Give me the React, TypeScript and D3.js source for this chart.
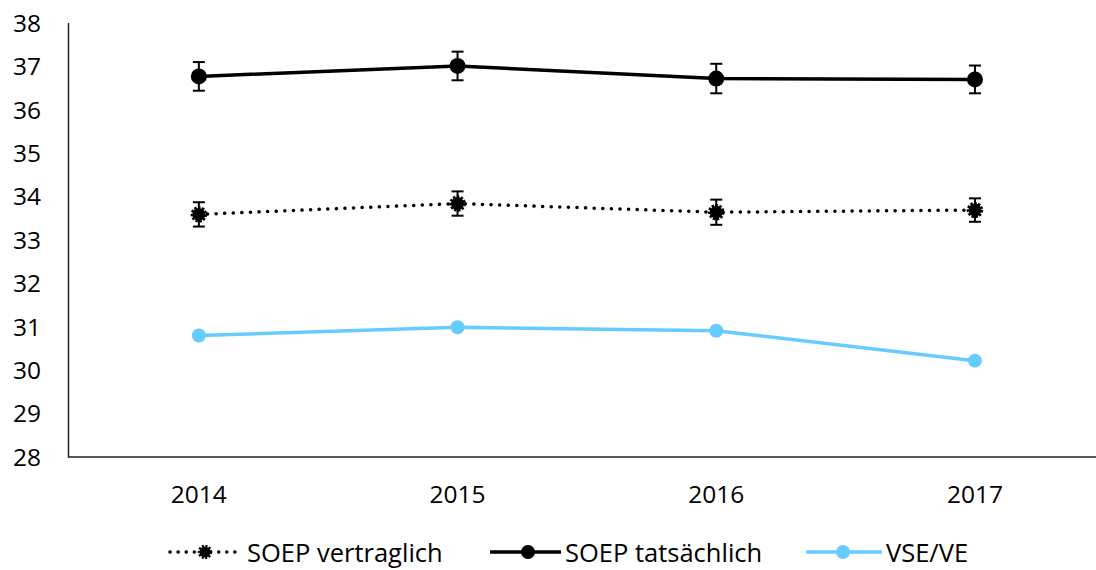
import React from "react";
import * as d3 from "d3";

const years = ["2014", "2015", "2016", "2017"];
const yTicks = [28, 29, 30, 31, 32, 33, 34, 35, 36, 37, 38];
const soepVertraglich = [33.59, 33.84, 33.64, 33.69];
const soepVertraglichErr = [0.28, 0.28, 0.29, 0.27];
const soepTatsaechlich = [36.77, 37.01, 36.72, 36.7];
const soepTatsaechlichErr = [0.33, 0.33, 0.34, 0.32];
const vseVe = [30.8, 30.99, 30.91, 30.22];
const legendLabels = ["SOEP vertraglich", "SOEP tatsächlich", "VSE/VE"];

const W = 1096;
const H = 570;
const FONT = "'Open Sans', Lato, sans-serif";
const BLUE = "#66CCFF";
const FS = 24.5;
const LFS = 25.5;

export default function App() {
  const x = d3.scaleBand<string>().domain(years).range([69.5, 69.5 + 4 * 258.7]);
  const y = d3.scaleLinear().domain([28, 38]).range([457, 23]);
  const cx = (yr: string) => (x(yr) as number) + x.bandwidth() / 2;
  const line = d3
    .line<number>()
    .x((_, i) => cx(years[i]))
    .y((v) => y(v));

  const errBars = (vals: number[], errs: number[]) =>
    vals.map((v, i) => {
      const px = cx(years[i]);
      const y1 = y(v + errs[i]);
      const y2 = y(v - errs[i]);
      return (
        <g key={i} stroke="#000" strokeWidth={2}>
          <line x1={px} x2={px} y1={y1} y2={y2} />
          <line x1={px - 6} x2={px + 6} y1={y1} y2={y1} />
          <line x1={px - 6} x2={px + 6} y1={y2} y2={y2} />
        </g>
      );
    });

  const legendY = 552;
  const legendBase = 562;

  return (
    <svg
      width={W}
      height={H}
      style={{ position: "absolute", left: 0, top: 0, background: "#fff" }}
      fontFamily={FONT}
    >
      {/* axes */}
      <line x1={68.5} x2={68.5} y1={y(38)} y2={y(28) + 0.5} stroke="#222" strokeWidth={1.5} />
      <line x1={68} x2={W} y1={y(28)} y2={y(28)} stroke="#222" strokeWidth={1.5} />
      {yTicks.map((t) => (
        <text key={t} x={41} y={y(t) + 8.8} textAnchor="end" fontSize={FS} fill="#000">
          {t}
        </text>
      ))}
      {years.map((yr) => (
        <text key={yr} x={cx(yr)} y={503} textAnchor="middle" fontSize={FS} fill="#000">
          {yr}
        </text>
      ))}

      {/* SOEP vertraglich */}
      <path
        d={line(soepVertraglich) || ""}
        fill="none"
        stroke="#000"
        strokeWidth={3.5}
        strokeDasharray="0.1 8.5"
        strokeLinecap="round"
      />
      {errBars(soepVertraglich, soepVertraglichErr)}
      {soepVertraglich.map((v, i) => (
        <g key={i}>
          <circle cx={cx(years[i])} cy={y(v)} r={6.5} fill="#000" />
          <circle
            cx={cx(years[i])}
            cy={y(v)}
            r={7}
            fill="none"
            stroke="#000"
            strokeWidth={2.5}
            strokeDasharray="2.5 1.5"
          />
        </g>
      ))}

      {/* SOEP tatsächlich */}
      <path d={line(soepTatsaechlich) || ""} fill="none" stroke="#000" strokeWidth={3.5} />
      {errBars(soepTatsaechlich, soepTatsaechlichErr)}
      {soepTatsaechlich.map((v, i) => (
        <circle key={i} cx={cx(years[i])} cy={y(v)} r={8} fill="#000" />
      ))}

      {/* VSE/VE */}
      <path d={line(vseVe) || ""} fill="none" stroke={BLUE} strokeWidth={3.5} />
      {vseVe.map((v, i) => (
        <circle key={i} cx={cx(years[i])} cy={y(v)} r={7} fill={BLUE} />
      ))}

      {/* legend */}
      <g>
        <line
          x1={170}
          x2={236}
          y1={legendY}
          y2={legendY}
          stroke="#000"
          strokeWidth={3.5}
          strokeDasharray="0.1 8"
          strokeLinecap="round"
        />
        <circle cx={205} cy={legendY} r={5.5} fill="#000" />
        <circle cx={205} cy={legendY} r={6} fill="none" stroke="#000" strokeWidth={2.5} strokeDasharray="2 1.5" />
        <text x={247} y={legendBase} fontSize={LFS}>
          {legendLabels[0]}
        </text>

        <line x1={490} x2={561} y1={legendY} y2={legendY} stroke="#000" strokeWidth={3.5} />
        <circle cx={528} cy={legendY} r={7} fill="#000" />
        <text x={565} y={legendBase} fontSize={LFS}>
          {legendLabels[1]}
        </text>

        <line x1={806} x2={882} y1={legendY} y2={legendY} stroke={BLUE} strokeWidth={3.5} />
        <circle cx={843} cy={legendY} r={7} fill={BLUE} />
        <text x={886} y={legendBase} fontSize={LFS}>
          {legendLabels[2]}
        </text>
      </g>
    </svg>
  );
}
